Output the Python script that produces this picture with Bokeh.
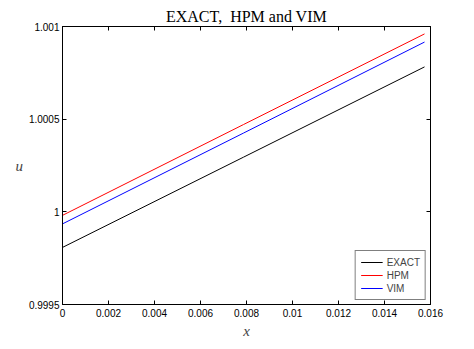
from bokeh.plotting import figure
from bokeh.models import (FixedTicker, Range1d, LinearAxis, Legend, LegendItem, Title)
from bokeh.embed import file_html
from bokeh.resources import INLINE

# data
x_vals = [0.0, 0.00787, 0.01574]
exact = [0.999808, 1.000295, 1.000782]
hpm = [0.999981, 1.000471, 1.000960]
vim = [0.999935, 1.000425, 1.000916]

x_ticks = [0, 0.002, 0.004, 0.006, 0.008, 0.01, 0.012, 0.014, 0.016]
x_tick_labels = ["0", "0.002", "0.004", "0.006", "0.008", "0.01", "0.012", "0.014", "0.016"]
y_ticks = [0.9995, 1.0, 1.0005, 1.001]
y_tick_labels = ["0.9995", "1", "1.0005", "1.001"]

p = figure(width=466, height=341, output_backend="svg", toolbar_location=None,
           x_range=Range1d(0, 0.016), y_range=Range1d(0.9995, 1.001),
           min_border_left=62, min_border_right=36, min_border_top=26, min_border_bottom=31)
p.title = Title(text="EXACT,\u00a0 HPM and VIM", align="center", text_font="Liberation Serif",
                text_font_size="16px", text_font_style="normal", standoff=4, offset=0)
p.title.text_color = "black"
p.xgrid.visible = False
p.ygrid.visible = False
p.outline_line_color = "black"
p.background_fill_color = "white"
p.border_fill_color = "white"

r1 = p.line(x_vals, exact, line_color="black", line_width=1)
r2 = p.line(x_vals, hpm, line_color="red", line_width=1)
r3 = p.line(x_vals, vim, line_color="blue", line_width=1)

def style(ax):
    ax.major_tick_in = 4
    ax.major_tick_out = 0
    ax.minor_tick_in = 0
    ax.minor_tick_out = 0
    ax.axis_line_color = "black"
    ax.major_tick_line_color = "black"
    ax.major_label_text_font = "Liberation Sans"
    ax.major_label_text_font_size = "10px"
    ax.major_label_text_color = "black"

xa = p.xaxis[0]
xa.ticker = FixedTicker(ticks=x_ticks)
xa.major_label_overrides = {t: l for t, l in zip(x_ticks, x_tick_labels)}
xa.major_label_standoff = 4
xa.axis_label = "x"
xa.axis_label_text_font = "Liberation Serif"
xa.axis_label_text_font_style = "italic"
xa.axis_label_text_font_size = "15px"
xa.axis_label_standoff = 3
style(xa)

ya = p.yaxis[0]
ya.ticker = FixedTicker(ticks=y_ticks)
ya.major_label_overrides = {t: l for t, l in zip(y_ticks, y_tick_labels)}
ya.major_label_standoff = 3
ya.axis_label = "u"
ya.axis_label_text_font = "Liberation Serif"
ya.axis_label_text_font_style = "italic"
ya.axis_label_text_font_size = "15px"
ya.axis_label_standoff = 3
if "axis_label_orientation" in ya.properties():
    ya.axis_label_orientation = "horizontal"
style(ya)

top = LinearAxis(ticker=FixedTicker(ticks=x_ticks))
style(top)
top.major_label_overrides = {t: "" for t in x_ticks}
p.add_layout(top, "above")
right = LinearAxis(ticker=FixedTicker(ticks=y_ticks))
style(right)
right.major_label_overrides = {t: "" for t in y_ticks}
p.add_layout(right, "right")

legend = Legend(items=[LegendItem(label="EXACT", renderers=[r1]),
                       LegendItem(label="HPM", renderers=[r2]),
                       LegendItem(label="VIM", renderers=[r3])],
                location="bottom_right")
legend.label_text_font = "Liberation Sans"
legend.label_text_font_size = "10px"
legend.border_line_color = "black"
legend.border_line_width = 1
legend.padding = 5
legend.spacing = 1
legend.margin = 4
legend.glyph_width = 22
legend.glyph_height = 12
legend.label_height = 12
legend.label_standoff = 4
legend.background_fill_alpha = 1
p.add_layout(legend, "center")

open("out.html", "w").write(file_html(p, INLINE))
